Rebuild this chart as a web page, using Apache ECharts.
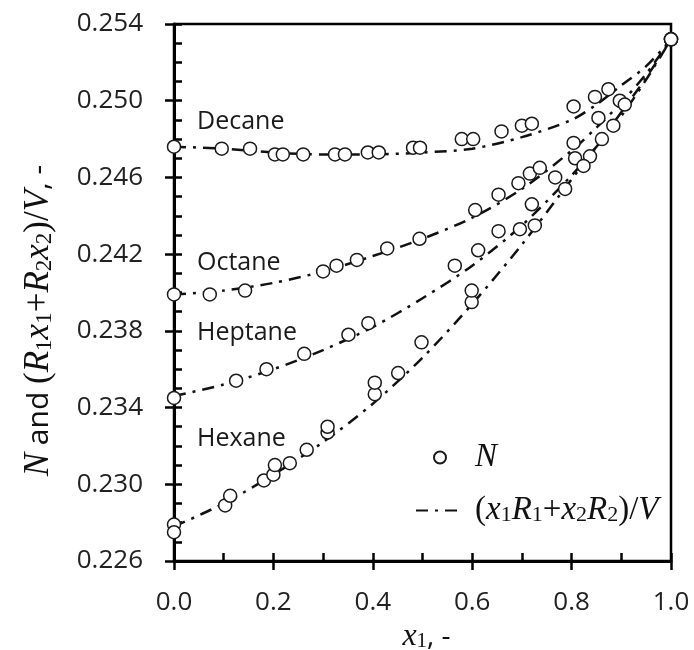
<!DOCTYPE html>
<html><head><meta charset="utf-8">
<script src="https://cdn.jsdelivr.net/npm/echarts@6/dist/echarts.min.js"></script>
<style>html,body{margin:0;padding:0;background:#fff}#c{width:694px;height:650px}</style>
</head><body><div id="c"></div>
<script>
// ---- tick labels ----
const xTicks = [0.0, 0.2, 0.4, 0.6, 0.8, 1.0];
const yTicks = [0.226, 0.230, 0.234, 0.238, 0.242, 0.246, 0.250, 0.254];

// ---- measured N (open circles) ----
const decaneX = [0, 0.096, 0.153, 0.203, 0.219, 0.260, 0.324, 0.344, 0.390, 0.412, 0.481, 0.495, 0.579, 0.602, 0.659, 0.700, 0.720, 0.804, 0.847, 0.874, 1.0];
const decaneN = [0.2476, 0.2475, 0.2475, 0.2472, 0.2472, 0.2472, 0.2472, 0.2472, 0.2473, 0.2473, 0.24755, 0.24755, 0.2480, 0.2480, 0.2484, 0.2487, 0.2488, 0.2497, 0.2502, 0.2506, 0.2532];

const octaneX = [0, 0.072, 0.143, 0.300, 0.327, 0.368, 0.429, 0.494, 0.606, 0.653, 0.693, 0.716, 0.736, 0.804, 0.854, 0.897, 0.907, 1.0];
const octaneN = [0.2399, 0.2399, 0.2401, 0.2411, 0.2414, 0.2417, 0.2423, 0.2428, 0.2443, 0.2451, 0.2457, 0.2462, 0.2465, 0.2478, 0.2491, 0.2500, 0.2498, 0.2532];

const heptaneX = [0, 0.125, 0.186, 0.262, 0.351, 0.391, 0.565, 0.612, 0.653, 0.720, 0.767, 0.807, 0.837, 0.861, 1.0];
const heptaneN = [0.2345, 0.2354, 0.2360, 0.2368, 0.2378, 0.2384, 0.2414, 0.2422, 0.2432, 0.2446, 0.2460, 0.2470, 0.2471, 0.2480, 0.2532];

const hexaneX = [0, 0, 0.103, 0.113, 0.181, 0.200, 0.203, 0.233, 0.267, 0.309, 0.309, 0.404, 0.404, 0.451, 0.498, 0.599, 0.599, 0.696, 0.726, 0.787, 0.824, 0.884, 1.0];
const hexaneN = [0.2279, 0.2275, 0.2289, 0.2294, 0.2302, 0.2305, 0.2310, 0.2311, 0.2318, 0.2327, 0.2330, 0.2347, 0.2353, 0.2358, 0.2374, 0.2395, 0.2401, 0.2433, 0.2435, 0.2454, 0.2466, 0.2487, 0.2532];

// ---- (x1R1+x2R2)/V model lines ----
const modelX   = [0, 0.1, 0.2, 0.3, 0.4, 0.5, 0.6, 0.7, 0.8, 0.85, 0.9, 0.95, 1.0];
const decaneR  = [0.2476, 0.2475, 0.2473, 0.2472, 0.2472, 0.2473, 0.2475, 0.2481, 0.2490, 0.2498, 0.2508, 0.2518, 0.2532];
const octaneR  = [0.2399, 0.2401, 0.2405, 0.2411, 0.2419, 0.2428, 0.2439, 0.2454, 0.2474, 0.2486, 0.2499, 0.2514, 0.2532];
const heptaneR = [0.2346, 0.2352, 0.2360, 0.2370, 0.2382, 0.2397, 0.2414, 0.2435, 0.2461, 0.2476, 0.2492, 0.2511, 0.2532];
const hexaneR  = [0.2278, 0.2290, 0.2305, 0.2322, 0.2342, 0.2366, 0.2394, 0.2425, 0.2459, 0.2476, 0.2494, 0.2512, 0.2532];

const liquids = ['Decane', 'Octane', 'Heptane', 'Hexane'];

const zip = (xs, ys) => xs.map((x, i) => [x, ys[i]]);

const INK = '#111';
const SERIF = '"Liberation Serif", "DejaVu Serif", serif';
const SANS = '"Open Sans", "Liberation Sans", sans-serif';

const makeRich = (big, small, sans, lh, drop) => ({
  i: { fontFamily: SERIF, fontStyle: 'italic', fontSize: big, lineHeight: lh, color: INK },
  n: { fontFamily: SERIF, fontSize: big, lineHeight: lh, color: INK },
  s: { fontFamily: SERIF, fontSize: small, lineHeight: lh - drop, padding: [drop, 0, 0, 0], color: INK },
  a: { fontFamily: SANS, fontSize: sans, lineHeight: lh, color: INK },
  g: { width: 6, fontSize: 10, lineHeight: lh }
});

const scatterOf = (data) => ({
  type: 'scatter', name: 'N', data, xAxisIndex: 0, yAxisIndex: 0,
  symbol: 'circle', symbolSize: 13, z: 5,
  itemStyle: { color: '#fff', borderColor: '#1a1a1a', borderWidth: 1.5, opacity: 1 }
});
const lineOf = (data) => ({
  type: 'line', name: 'model', data, xAxisIndex: 0, yAxisIndex: 0,
  symbol: 'none', showSymbol: false, smooth: 0.3, z: 3,
  itemStyle: { color: 'rgba(0,0,0,0)', borderWidth: 0 },
  lineStyle: { color: INK, width: 2.5, type: [12, 7, 3, 7] }
});

const tickLine = { color: '#000', width: 2.5 };

const option = {
  animation: false,
  backgroundColor: '#fff',
  grid: { left: 174, top: 24, width: 497, height: 537, show: true, borderColor: '#000', borderWidth: 2.5, backgroundColor: 'transparent', containLabel: false, outerBoundsMode: 'none' },
  xAxis: [
    {
      type: 'value', min: xTicks[0], max: xTicks[xTicks.length - 1], interval: 0.2, position: 'bottom',
      axisLine: { show: true, onZero: false, lineStyle: { color: '#000', width: 3 } },
      axisTick: { show: true, inside: false, length: 9, lineStyle: tickLine },
      axisLabel: { margin: 29, fontSize: 26, fontFamily: SANS, color: '#222', formatter: v => v.toFixed(1) },
      splitLine: { show: false },
      name: '{i|x}{s|1}{a|, -}', nameLocation: 'middle', nameGap: 54,
      nameTextStyle: { rich: makeRich(32, 21, 28, 36, 10), padding: [0, 0, 0, 8] }
    },
    {
      type: 'value', min: xTicks[0], max: xTicks[xTicks.length - 1], interval: 0.1, position: 'bottom',
      axisLine: { show: false, onZero: false },
      axisTick: { show: true, inside: true, length: 8, lineStyle: tickLine },
      axisLabel: { show: false }, splitLine: { show: false }
    }
  ],
  yAxis: [
    {
      type: 'value', min: yTicks[0], max: yTicks[yTicks.length - 1], interval: 0.004, position: 'left',
      axisLine: { show: true, onZero: false, lineStyle: { color: '#000', width: 3 } },
      axisTick: { show: true, inside: false, length: 9, lineStyle: tickLine },
      axisLabel: { margin: 31, fontSize: 26, fontFamily: SANS, color: '#222', formatter: v => v.toFixed(3) },
      splitLine: { show: false },
      name: '{i|N}{a| and }{n|(}{i|R}{s|1}{i|x}{s|1}{n|+}{i|R}{s|2}{i|x}{s|2}{n|)/}{i|V}{a|, -}',
      nameLocation: 'middle', nameRotate: 90, nameGap: 116,
      nameTextStyle: { rich: makeRich(35, 23, 30, 38, 11), padding: [0, 56, 0, 0] }
    },
    {
      type: 'value', min: yTicks[0], max: yTicks[yTicks.length - 1], interval: 0.001, position: 'left',
      axisLine: { show: false, onZero: false },
      axisTick: { show: true, inside: true, length: 8, lineStyle: tickLine },
      axisLabel: { show: false }, splitLine: { show: false }
    }
  ],
  legend: {
    orient: 'vertical', left: 410, top: 436, itemWidth: 48, itemHeight: 12, itemGap: 20,
    data: ['N', 'model'],
    formatter: name => name === 'N'
      ? '{g| }{i|N}'
      : '{g| }{n|(}{i|x}{s|1}{i|R}{s|1}{n|+}{i|x}{s|2}{i|R}{s|2}{n|)/}{i|V}',
    textStyle: { rich: makeRich(33, 22, 28, 38, 10) }
  },
  graphic: [
    { type: 'text', x: 197, y: 122, style: { text: liquids[0], font: '25px "Open Sans"', fill: '#1a1a1a', verticalAlign: 'middle' } },
    { type: 'text', x: 197, y: 263, style: { text: liquids[1], font: '25px "Open Sans"', fill: '#1a1a1a', verticalAlign: 'middle' } },
    { type: 'text', x: 197, y: 333, style: { text: liquids[2], font: '25px "Open Sans"', fill: '#1a1a1a', verticalAlign: 'middle' } },
    { type: 'text', x: 197, y: 439, style: { text: liquids[3], font: '25px "Open Sans"', fill: '#1a1a1a', verticalAlign: 'middle' } }
  ],
  series: [
    lineOf(zip(modelX, decaneR)),
    lineOf(zip(modelX, octaneR)),
    lineOf(zip(modelX, heptaneR)),
    lineOf(zip(modelX, hexaneR)),
    scatterOf(zip(decaneX, decaneN)),
    scatterOf(zip(octaneX, octaneN)),
    scatterOf(zip(heptaneX, heptaneN)),
    scatterOf(zip(hexaneX, hexaneN))
  ]
};

const chart = echarts.init(document.getElementById('c'), null, { renderer: 'canvas' });
chart.setOption(option);
</script></body></html>
